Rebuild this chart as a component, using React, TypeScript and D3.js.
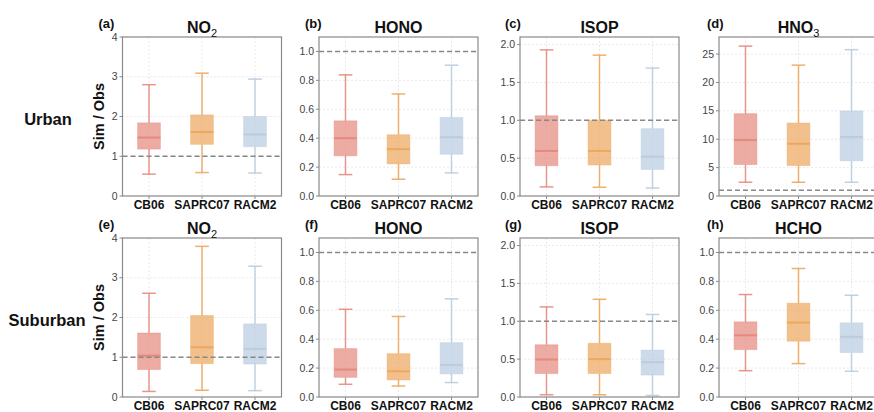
import React from "react";
import * as d3 from "d3";

const models = ["CB06", "SAPRC07", "RACM2"];
const rowNames = ["Urban", "Suburban"];
const panelLabels = ["(a)", "(b)", "(c)", "(d)", "(e)", "(f)", "(g)", "(h)"];
const titleMain = ["NO", "HONO", "ISOP", "HNO", "NO", "HONO", "ISOP", "HCHO"];
const titleSub = ["2", "", "", "3", "2", "", "", ""];
const yMaxes = [4, 1.1, 2.1, 28, 4, 1.1, 2.1, 1.1];
const yTickLists = [
  [0, 1, 2, 3, 4],
  [0, 0.2, 0.4, 0.6, 0.8, 1.0],
  [0, 0.5, 1.0, 1.5, 2.0],
  [0, 5, 10, 15, 20, 25],
  [0, 1, 2, 3, 4],
  [0, 0.2, 0.4, 0.6, 0.8, 1.0],
  [0, 0.5, 1.0, 1.5, 2.0],
  [0, 0.2, 0.4, 0.6, 0.8, 1.0],
];
const yTickDecimals = [0, 1, 1, 0, 0, 1, 1, 1];

// [min, q1, median, q3, max] per model (CB06, SAPRC07, RACM2)
const urbanNO2 = [[0.55, 1.18, 1.47, 1.84, 2.8], [0.59, 1.3, 1.61, 2.04, 3.09], [0.58, 1.24, 1.55, 2.0, 2.94]];
const urbanHONO = [[0.148, 0.278, 0.4, 0.52, 0.838], [0.116, 0.222, 0.324, 0.424, 0.706], [0.16, 0.289, 0.407, 0.544, 0.905]];
const urbanISOP = [[0.12, 0.4, 0.595, 1.06, 1.93], [0.115, 0.41, 0.595, 1.0, 1.86], [0.105, 0.35, 0.52, 0.89, 1.69]];
const urbanHNO3 = [[2.42, 5.54, 9.85, 14.5, 26.4], [2.42, 5.37, 9.2, 12.85, 23.05], [2.42, 6.19, 10.38, 14.98, 25.77]];
const suburbanNO2 = [[0.14, 0.69, 1.04, 1.61, 2.61], [0.17, 0.84, 1.25, 2.05, 3.79], [0.16, 0.83, 1.21, 1.84, 3.29]];
const suburbanHONO = [[0.088, 0.136, 0.19, 0.335, 0.607], [0.076, 0.118, 0.178, 0.3, 0.557], [0.1, 0.16, 0.222, 0.376, 0.679]];
const suburbanISOP = [[0.03, 0.31, 0.495, 0.69, 1.19], [0.03, 0.31, 0.5, 0.71, 1.29], [0.02, 0.29, 0.46, 0.62, 1.09]];
const suburbanHCHO = [[0.182, 0.328, 0.427, 0.52, 0.709], [0.231, 0.386, 0.515, 0.649, 0.889], [0.178, 0.307, 0.416, 0.513, 0.704]];
const panelData = [urbanNO2, urbanHONO, urbanISOP, urbanHNO3, suburbanNO2, suburbanHONO, suburbanISOP, suburbanHCHO];
const refValue = 1;

const modelColors = ["#E58A80", "#EDA75F", "#B9CCE0"];

const panelLefts = [122.5, 319, 520, 719];
const panelTops = [37, 238];
const panelSize = 159;
const labelOffsets = [-24, -14, -15, -12];
const FONT = "'Liberation Sans', Arial, Helvetica, sans-serif";

function Panel({ idx }: { idx: number }) {
  const col = idx % 4;
  const row = Math.floor(idx / 4);
  const x0 = panelLefts[col];
  const y0 = panelTops[row];
  const x = d3.scaleBand<string>().domain(models).range([x0, x0 + panelSize]).padding(0);
  const y = d3.scaleLinear().domain([0, yMaxes[idx]]).range([y0 + panelSize, y0]);
  const bw = x.bandwidth();
  const boxW = bw * 0.43;
  const capW = boxW * 0.6;
  const fmt = d3.format(`.${yTickDecimals[idx]}f`);
  const data = panelData[idx];
  return (
    <g>
      {/* grid */}
      {yTickLists[idx].map((t) => (
        <line key={"gy" + t} x1={x0} x2={x0 + panelSize} y1={y(t)} y2={y(t)} stroke="#e3e3e3" strokeWidth={0.8} strokeDasharray="2,2" />
      ))}
      {models.map((m) => (
        <line key={"gx" + m} x1={x(m)! + bw / 2} x2={x(m)! + bw / 2} y1={y0} y2={y0 + panelSize} stroke="#e3e3e3" strokeWidth={0.8} strokeDasharray="2,2" />
      ))}
      {/* boxes */}
      {models.map((m, i) => {
        const [mn, q1, med, q3, mx] = data[i];
        const cx = x(m)! + bw / 2;
        const c = modelColors[i];
        return (
          <g key={m}>
            <line x1={cx} x2={cx} y1={y(mn)} y2={y(q1)} stroke={c} strokeOpacity={0.9} strokeWidth={1.5} />
            <line x1={cx} x2={cx} y1={y(q3)} y2={y(mx)} stroke={c} strokeOpacity={0.9} strokeWidth={1.5} />
            <line x1={cx - capW / 2} x2={cx + capW / 2} y1={y(mn)} y2={y(mn)} stroke={c} strokeOpacity={0.9} strokeWidth={1.5} />
            <line x1={cx - capW / 2} x2={cx + capW / 2} y1={y(mx)} y2={y(mx)} stroke={c} strokeOpacity={0.9} strokeWidth={1.5} />
            <rect x={cx - boxW / 2} y={y(q3)} width={boxW} height={y(q1) - y(q3)} fill={c} fillOpacity={0.72} stroke={c} strokeOpacity={0.4} strokeWidth={1} />
            <line x1={cx - boxW / 2} x2={cx + boxW / 2} y1={y(med)} y2={y(med)} stroke={c} strokeWidth={2} />
          </g>
        );
      })}
      {/* reference line */}
      <line x1={x0} x2={x0 + panelSize} y1={y(refValue)} y2={y(refValue)} stroke="#888" strokeWidth={1.5} strokeDasharray="5,3" />
      {/* frame */}
      <rect x={x0} y={y0} width={panelSize} height={panelSize} fill="none" stroke="#8a8a8a" strokeWidth={1.2} />
      {/* y ticks */}
      {yTickLists[idx].map((t) => (
        <g key={"ty" + t}>
          <line x1={x0 - 3} x2={x0} y1={y(t)} y2={y(t)} stroke="#8a8a8a" strokeWidth={1} />
          <text x={x0 - 5} y={y(t)} dy="0.35em" textAnchor="end" fontSize={10.5} fill="#444" fontFamily={FONT}>
            {fmt(t)}
          </text>
        </g>
      ))}
      {/* x ticks */}
      {models.map((m) => (
        <g key={"tx" + m}>
          <line x1={x(m)! + bw / 2} x2={x(m)! + bw / 2} y1={y0 + panelSize} y2={y0 + panelSize + 3} stroke="#8a8a8a" strokeWidth={1} />
          <text x={x(m)! + bw / 2} y={y0 + panelSize + 13} textAnchor="middle" fontSize={12} fontWeight="bold" fill="#111" fontFamily={FONT}>
            {m}
          </text>
        </g>
      ))}
      {/* labels */}
      <text x={x0 + labelOffsets[col]} y={y0 - 9} fontSize={13} fontWeight="bold" fill="#111" fontFamily={FONT}>
        {panelLabels[idx]}
      </text>
      <text x={x0 + panelSize / 2} y={y0 - 4} textAnchor="middle" fontSize={16} fontWeight="bold" fill="#111" fontFamily={FONT}>
        {titleMain[idx]}
        {titleSub[idx] && (
          <tspan dy={4} fontSize={11} fontWeight="normal">
            {titleSub[idx]}
          </tspan>
        )}
      </text>
    </g>
  );
}

export default function App() {
  return (
    <svg width={874} height={412} style={{ position: "absolute", left: 0, top: 0, background: "#fff" }}>
      <rect width={874} height={412} fill="#fff" />
      {rowNames.map((r, i) => {
        const cy = panelTops[i] + panelSize / 2;
        return (
          <g key={r}>
            <text x={i === 0 ? 48 : 47} y={cy + 3} dy="0.35em" textAnchor="middle" fontSize={16.5} fontWeight="bold" fill="#111" fontFamily={FONT}>
              {r}
            </text>
            <text transform={`translate(104,${cy}) rotate(-90)`} textAnchor="middle" fontSize={14.5} fontWeight="bold" fill="#111" fontFamily={FONT}>
              Sim / Obs
            </text>
          </g>
        );
      })}
      {panelLabels.map((_, i) => (
        <Panel key={i} idx={i} />
      ))}
    </svg>
  );
}
